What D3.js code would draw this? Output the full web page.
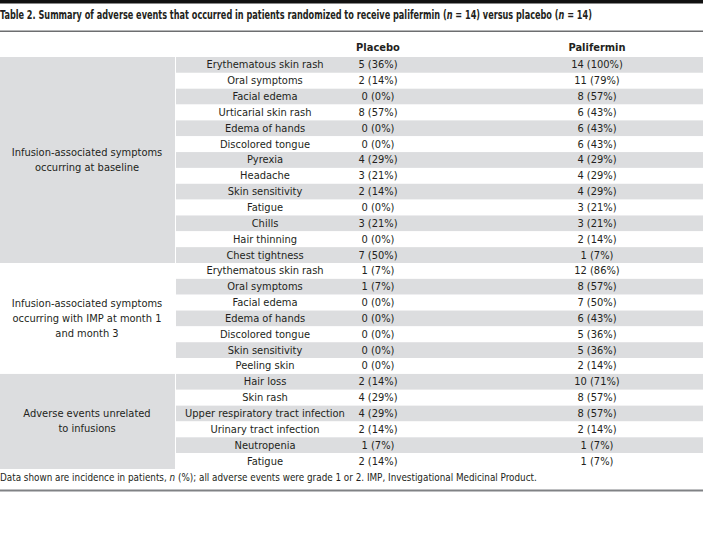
<!DOCTYPE html>
<html>
<head>
<meta charset="utf-8">
<script src="https://cdn.jsdelivr.net/npm/d3@7"></script>
<style>
  body { margin: 0; background: #fff; }
  svg text { font-family: "DejaVu Sans Condensed", "Liberation Sans Narrow", "DejaVu Sans", sans-serif; fill: #231f20; }
</style>
</head>
<body>
<div id="table"></div>
<script>
// Table content
const title = "Table 2. Summary of adverse events that occurred in patients randomized to receive palifermin (";
const columns = ["Placebo", "Palifermin"];
const groups = [
  ["Infusion-associated symptoms", "occurring at baseline"],
  ["Infusion-associated symptoms", "occurring with IMP at month 1", "and month 3"],
  ["Adverse events unrelated", "to infusions"]
];
const groupSizes = [13, 7, 6];
const events = [
  "Erythematous skin rash", "Oral symptoms", "Facial edema", "Urticarial skin rash",
  "Edema of hands", "Discolored tongue", "Pyrexia", "Headache", "Skin sensitivity",
  "Fatigue", "Chills", "Hair thinning", "Chest tightness",
  "Erythematous skin rash", "Oral symptoms", "Facial edema", "Edema of hands",
  "Discolored tongue", "Skin sensitivity", "Peeling skin",
  "Hair loss", "Skin rash", "Upper respiratory tract infection", "Urinary tract infection",
  "Neutropenia", "Fatigue"
];
const placebo = [
  "5 (36%)", "2 (14%)", "0 (0%)", "8 (57%)", "0 (0%)", "0 (0%)", "4 (29%)", "3 (21%)",
  "2 (14%)", "0 (0%)", "3 (21%)", "0 (0%)", "7 (50%)",
  "1 (7%)", "1 (7%)", "0 (0%)", "0 (0%)", "0 (0%)", "0 (0%)", "0 (0%)",
  "2 (14%)", "4 (29%)", "4 (29%)", "2 (14%)", "1 (7%)", "2 (14%)"
];
const palifermin = [
  "14 (100%)", "11 (79%)", "8 (57%)", "6 (43%)", "6 (43%)", "6 (43%)", "4 (29%)", "4 (29%)",
  "4 (29%)", "3 (21%)", "3 (21%)", "2 (14%)", "1 (7%)",
  "12 (86%)", "8 (57%)", "7 (50%)", "6 (43%)", "5 (36%)", "5 (36%)", "2 (14%)",
  "10 (71%)", "8 (57%)", "8 (57%)", "2 (14%)", "1 (7%)", "1 (7%)"
];

const width = 703, height = 544;
const shade = "#dcdddf";

const svg = d3.select("#table").append("svg")
  .attr("width", width)
  .attr("height", height);

// Squeeze a left-anchored text horizontally so it spans w pixels
function fit(sel, w) {
  const len = sel.node().getBBox().width;
  const x0 = +sel.attr("x");
  sel.attr("x", 0).attr("transform", `translate(${x0},0) scale(${w / len},1)`);
}

// Rule at the top
svg.append("rect").attr("x", 0).attr("y", 0).attr("width", width).attr("height", 3.5).attr("fill", "#111");

// Title
const t = svg.append("text").attr("x", 0).attr("y", 19.5)
  .attr("font-size", 13).attr("font-weight", "bold");
t.append("tspan").text(title);
t.append("tspan").attr("font-style", "italic").text("n");
t.append("tspan").text(" = 14) versus placebo (");
t.append("tspan").attr("font-style", "italic").text("n");
t.append("tspan").text(" = 14)");
fit(t, 593);

svg.append("rect").attr("x", 0).attr("y", 30.5).attr("width", width).attr("height", 1.5).attr("fill", "#6d6e70");

// Scales
const y = d3.scaleBand().domain(d3.range(events.length)).range([57, 469]);
const x = d3.scaleOrdinal().domain(["group", "event", ...columns]).range([87, 265, 378, 597]);
const groupW = 175, eventX0 = 176;

// Header
svg.selectAll(".head").data(columns).join("text")
  .attr("class", "head")
  .attr("x", d => x(d)).attr("y", 47)
  .attr("text-anchor", "middle").attr("dominant-baseline", "central")
  .attr("font-size", 11).attr("font-weight", "bold")
  .text(d => d);

// Row stripes
const rows = svg.selectAll(".row").data(events).join("g").attr("class", "row")
  .attr("transform", (d, i) => `translate(0,${y(i)})`);

rows.append("rect")
  .attr("x", eventX0).attr("width", width - eventX0)
  .attr("height", y.bandwidth())
  .attr("fill", (d, i) => i % 2 === 0 ? shade : "#fff");

rows.append("text").attr("x", x("event")).attr("y", y.bandwidth() / 2)
  .attr("text-anchor", "middle").attr("dominant-baseline", "central")
  .attr("font-size", 11).text(d => d);
rows.append("text").attr("x", x("Placebo")).attr("y", y.bandwidth() / 2)
  .attr("text-anchor", "middle").attr("dominant-baseline", "central")
  .attr("font-size", 11).text((d, i) => placebo[i]);
rows.append("text").attr("x", x("Palifermin")).attr("y", y.bandwidth() / 2)
  .attr("text-anchor", "middle").attr("dominant-baseline", "central")
  .attr("font-size", 11).text((d, i) => palifermin[i]);

// Group cells
const starts = groupSizes.map((s, i) => d3.sum(groupSizes.slice(0, i)));
groups.forEach((lines, g) => {
  const top = y(starts[g]);
  const bottom = y(starts[g] + groupSizes[g] - 1) + y.bandwidth();
  svg.append("rect").attr("x", 0).attr("y", top).attr("width", groupW)
    .attr("height", bottom - top).attr("fill", g % 2 === 0 ? shade : "#fff");
  const mid = (top + bottom) / 2;
  svg.append("g").selectAll("text").data(lines).join("text")
    .attr("x", x("group"))
    .attr("y", (d, k) => mid + (k - (lines.length - 1) / 2) * 15)
    .attr("text-anchor", "middle").attr("dominant-baseline", "central")
    .attr("font-size", 11).text(d => d);
});

// Footnote
const f = svg.append("text").attr("x", 0).attr("y", 477)
  .attr("dominant-baseline", "central").attr("font-size", 11);
f.append("tspan").text("Data shown are incidence in patients, ");
f.append("tspan").attr("font-style", "italic").text("n");
f.append("tspan").text(" (%); all adverse events were grade 1 or 2. IMP, Investigational Medicinal Product.");
fit(f, 538);

svg.append("rect").attr("x", 0).attr("y", 489.5).attr("width", width).attr("height", 2).attr("fill", "#808285");
</script>
</body>
</html>
